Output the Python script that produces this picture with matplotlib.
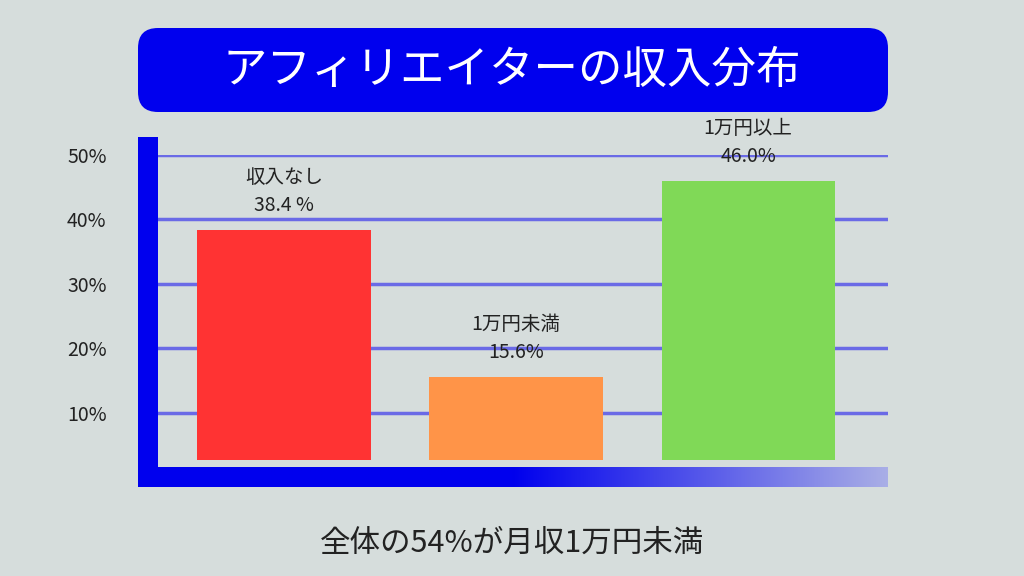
import matplotlib
matplotlib.use("Agg")
import matplotlib.pyplot as plt
import numpy as np
from matplotlib.patches import FancyBboxPatch, Rectangle
from matplotlib.colors import LinearSegmentedColormap

categories = ["収入なし", "1万円未満", "1万円以上"]
values = [38.4, 15.6, 46.0]
value_labels = ["38.4 %", "15.6%", "46.0%"]
colors = ["#ff3333", "#ff9448", "#80d957"]
yticks = [10, 20, 30, 40, 50]
ytick_labels = ["10%", "20%", "30%", "40%", "50%"]
title = "アフィリエイターの収入分布"
footer = "全体の54%が月収1万円未満"

plt.rcParams["font.family"] = "Noto Sans CJK JP"
W, H = 1024, 576
bg = "#d6dddc"
fig = plt.figure(figsize=(W / 100, H / 100), dpi=100, facecolor=bg)

deco = fig.add_axes([0, 0, 1, 1])
deco.set_xlim(0, W); deco.set_ylim(H, 0); deco.axis("off")
deco.add_patch(FancyBboxPatch((150, 40), 726, 60, boxstyle="round,pad=12,rounding_size=20",
                              fc="#0000ee", ec="none"))
deco.text(512, 70, title, color="white", fontsize=32, ha="center", va="center")
grad = np.linspace(0, 1, 256).reshape(1, -1)
cm = LinearSegmentedColormap.from_list("g", ["#0000ee", "#0000ee", "#a9aee6"])
deco.imshow(grad, cmap=cm, extent=(138, 888, 487, 467), aspect="auto", zorder=2)
deco.add_patch(Rectangle((138, 137), 20, 350, fc="#0000ee", ec="none", zorder=3))
deco.text(512, 543, footer, fontsize=22, ha="center", va="center", color="#222222")

ax = fig.add_axes([158 / W, (H - 477) / H, 730 / W, (477 - 155) / H])
ax.patch.set_alpha(0)
ax.set_xlim(-0.543, 2.603)
ax.set_ylim(0, 50)
for s in ax.spines.values():
    s.set_visible(False)
ax.set_xticks([])
ax.set_yticks(yticks)
ax.set_yticklabels(ytick_labels, fontsize=14, color="#222222")
ax.tick_params(axis="y", length=0, pad=37)
for y in yticks:
    ax.axhline(y, color="#6a6ae6", lw=2.5, zorder=0)
x = np.arange(len(categories))
base = 2.6
ax.bar(x, [v - base for v in values], bottom=base, width=0.746, color=colors, zorder=2)
for xi, v, c, vl in zip(x, values, categories, value_labels):
    ax.annotate(c + "\n" + vl, (xi, v), xytext=(0, 10), textcoords="offset points",
                ha="center", va="bottom", fontsize=14, linespacing=1.4, color="#222222")

fig.savefig("out.png", dpi=100, facecolor=bg)
